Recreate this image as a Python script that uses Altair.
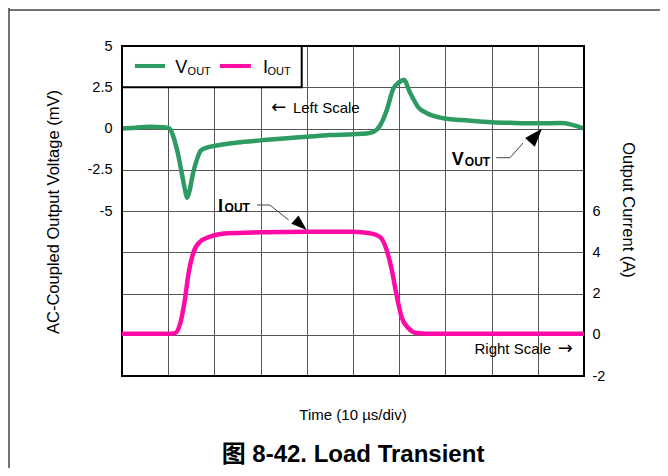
import altair as alt
import pandas as pd

# ---------------- data ----------------
vout_t = [0, 3, 6, 9, 10.3, 11, 12, 13, 13.7, 14.1, 14.6, 15.3, 16.2, 17, 18.5, 20, 25, 30, 35, 40, 45, 50,
          53, 54.5, 55.8, 57.3, 58.7, 60, 61, 62.3, 64.1, 66, 69.5, 75, 80, 85, 90, 95, 100]
vout_v = [0.0, 0.05, 0.1, 0.08, 0.0, -0.4, -1.4, -2.8, -3.8, -4.2, -3.8, -2.8, -1.9, -1.35, -1.15, -1.05, -0.85,
          -0.72, -0.6, -0.5, -0.4, -0.35, -0.3, -0.2, 0.15, 1.1, 2.4, 2.8, 2.95, 2.2, 1.3, 0.92, 0.62, 0.48, 0.38,
          0.34, 0.32, 0.33, 0.0]

iout_t = [0, 5, 10, 11.5, 12.6, 13.6, 14.4, 15.4, 16.9, 19, 22.7, 30, 40, 50, 53.7, 55.8, 57.3, 58.4, 59.5,
          60.5, 62, 63.8, 66, 75, 85, 100]
iout_a = [0.05, 0.05, 0.05, 0.08, 0.55, 1.68, 2.98, 3.95, 4.51, 4.75, 4.92, 4.97, 5.0, 5.0, 4.92, 4.75, 4.1,
          3.14, 1.85, 0.87, 0.31, 0.08, 0.05, 0.05, 0.05, 0.05]

left_ticks = [5, 2.5, 0, -2.5, -5]
right_ticks = [6, 4, 2, 0, -2]
left_grid = [-12.5, -10, -7.5, -5, -2.5, 0, 2.5]

GREEN = "#2E9B63"
MAGENTA = "#FF0AA5"
FONT = "Liberation Sans"
ARROWFONT = "DejaVu Sans"
GRID = "#555555"

df_v = pd.DataFrame({"t": vout_t, "v": vout_v})
df_i = pd.DataFrame({"t": iout_t, "a": iout_a})

xs = alt.Scale(domain=[0, 100], nice=False, zero=False)
yl = alt.Scale(domain=[-15, 5], nice=False, zero=False)
yr = alt.Scale(domain=[-2, 14], nice=False, zero=False)

x_axis = alt.Axis(values=list(range(10, 100, 10)), grid=True, labels=False, ticks=False, tickSize=0,
                  domain=False, title=None, gridColor=GRID, gridWidth=1, gridOpacity=1)
yl_axis = alt.Axis(values=left_grid + [5], grid=True, ticks=False, tickSize=0, domain=False, title=None,
                   gridColor=GRID, gridWidth=1, gridOpacity=1, labelPadding=10,
                   labelExpr="datum.value >= -5 ? toString(datum.value) : ''",
                   labelFont=FONT, labelFontSize=14.5, labelColor="black")
yr_axis = alt.Axis(values=right_ticks, grid=False, ticks=False, tickSize=0, domain=False, title=None,
                   orient="right", labelPadding=8, labelAlign="left",
                   labelExpr="toString(datum.value)",
                   labelFont=FONT, labelFontSize=14.5, labelColor="black")


def XL(field="x"):
    return alt.X(f"{field}:Q", scale=xs, axis=x_axis)


def YL(field="y"):
    return alt.Y(f"{field}:Q", scale=yl, axis=yl_axis)


def YR(field="y"):
    return alt.Y(f"{field}:Q", scale=yr, axis=yr_axis)


# ---------- left (voltage) group ----------
vline = alt.Chart(df_v).mark_line(color=GREEN, strokeWidth=4.5, strokeJoin="round",
                                  interpolate="monotone").encode(x=XL("t"), y=YL("v"))

legend_box = alt.Chart(pd.DataFrame({"x": [0], "x2": [38.9], "y": [5], "y2": [2.5]})).mark_rect(
    fill="white", stroke="black", strokeWidth=2).encode(x=XL(), x2="x2", y=YL(), y2="y2")

legend_lines = alt.Chart(pd.DataFrame({
    "x": [2.8, 21.2], "x2": [9.3, 27.9], "y": [3.79, 3.79], "c": [GREEN, MAGENTA]})).mark_rule(
    strokeWidth=4).encode(x=XL(), x2="x2", y=YL(), color=alt.Color("c:N", scale=None))

big_txt = pd.DataFrame({"x": [11.5, 30.5], "y": [3.36, 3.36], "s": ["V", "I"]})
small_txt = pd.DataFrame({"x": [14.2, 31.5], "y": [3.24, 3.24], "s": ["OUT", "OUT"]})
legend_big = alt.Chart(big_txt).mark_text(font=FONT, fontSize=18, align="left", baseline="alphabetic",
                                          color="black").encode(x=XL(), y=YL(), text="s:N")
legend_small = alt.Chart(small_txt).mark_text(font=FONT, fontSize=11, align="left", baseline="alphabetic",
                                              color="black").encode(x=XL(), y=YL(), text="s:N")

left_arrow = alt.Chart(pd.DataFrame({"x": [32.3], "y": [1.24], "s": ["\u2190"]})).mark_text(
    font=ARROWFONT, fontSize=18, align="left", baseline="middle", color="black").encode(
    x=XL(), y=YL(), text="s:N")
left_scale_txt = alt.Chart(pd.DataFrame({"x": [37.0], "y": [1.24], "s": ["Left Scale"]})).mark_text(
    font=FONT, fontSize=15, align="left", baseline="middle", color="black").encode(
    x=XL(), y=YL(), text="s:N")

vout_big = alt.Chart(pd.DataFrame({"x": [71.4], "y": [-2.21], "s": ["V"]})).mark_text(
    font=FONT, fontSize=18, fontWeight="bold", align="left", baseline="alphabetic", color="black").encode(
    x=XL(), y=YL(), text="s:N")
vout_small = alt.Chart(pd.DataFrame({"x": [74.2], "y": [-2.27], "s": ["OUT"]})).mark_text(
    font=FONT, fontSize=12, fontWeight="bold", align="left", baseline="alphabetic", color="black").encode(
    x=XL(), y=YL(), text="s:N")
vout_leader = alt.Chart(pd.DataFrame({"x": [81.0, 84.0, 86.8], "y": [-1.77, -1.77, -0.88],
                                      "o": [0, 1, 2]})).mark_line(color="#444444", strokeWidth=1).encode(
    x=XL(), y=YL(), order="o:Q")
vout_arrow = alt.Chart(pd.DataFrame({"x": [89.6], "y": [-0.43]})).mark_point(
    shape="M0,-1L0.72,1L-0.72,1Z", filled=True, color="black", opacity=1, size=324, angle=41.6).encode(
    x=XL(), y=YL())

frame_v = alt.Chart(pd.DataFrame({"k": [0]})).mark_rule(color="#444444", strokeWidth=1.5).encode(
    x=alt.value(-113), y=alt.value(-40), y2=alt.value(440))
frame_h = alt.Chart(pd.DataFrame({"k": [0]})).mark_rule(color="#444444", strokeWidth=1.5).encode(
    x=alt.value(-113), x2=alt.value(560), y=alt.value(-36))

titles = pd.DataFrame({
    "s": ["AC-Coupled Output Voltage (mV)", "Output Current (A)", "Time (10 \u00b5s/div)"],
})
left_title = alt.Chart(titles.iloc[[0]]).mark_text(font=FONT, fontSize=16.5, angle=270, align="center",
                                                   baseline="middle", color="black").encode(
    x=alt.value(-68), y=alt.value(166), text="s:N")
right_title = alt.Chart(titles.iloc[[1]]).mark_text(font=FONT, fontSize=16.5, angle=90, align="center",
                                                    baseline="middle", color="black").encode(
    x=alt.value(506), y=alt.value(164), text="s:N")
x_title = alt.Chart(titles.iloc[[2]]).mark_text(font=FONT, fontSize=15, align="center",
                                                baseline="middle", color="black").encode(
    x=alt.value(231), y=alt.value(369), text="s:N")
caption = alt.Chart(pd.DataFrame({"s": ["\u56fe 8-42. Load Transient"]})).mark_text(
    font="Liberation Sans, Noto Sans CJK SC", fontSize=24, fontWeight="bold", align="center",
    baseline="middle", color="black").encode(
    x=alt.value(231), y=alt.value(409), text="s:N")

border = alt.Chart(pd.DataFrame({"x": [0], "x2": [100], "y": [-15], "y2": [5]})).mark_rect(
    stroke="black", strokeWidth=2, filled=False).encode(x=XL(), x2="x2", y=YL(), y2="y2")

left_group = alt.layer(vline, legend_box, legend_lines, legend_big, legend_small, left_arrow,
                       left_scale_txt, vout_leader, vout_arrow, vout_big, vout_small, frame_v, frame_h,
                       left_title, right_title, x_title, caption, border)

# ---------- right (current) group ----------
iline = alt.Chart(df_i).mark_line(color=MAGENTA, strokeWidth=4.5, strokeJoin="round",
                                  interpolate="monotone").encode(x=XL("t"), y=YR("a"))
iout_big = alt.Chart(pd.DataFrame({"x": [20.8], "y": [5.97], "s": ["I"]})).mark_text(
    font=FONT, fontSize=18, fontWeight="bold", align="left", baseline="alphabetic", color="black").encode(
    x=XL(), y=YR(), text="s:N")
iout_small = alt.Chart(pd.DataFrame({"x": [22.2], "y": [5.93], "s": ["OUT"]})).mark_text(
    font=FONT, fontSize=12, fontWeight="bold", align="left", baseline="alphabetic", color="black").encode(
    x=XL(), y=YR(), text="s:N")
iout_leader = alt.Chart(pd.DataFrame({"x": [29.2, 32.0, 36.1], "y": [6.29, 6.29, 5.56],
                                      "o": [0, 1, 2]})).mark_line(color="#444444", strokeWidth=1).encode(
    x=XL(), y=YR(), order="o:Q")
iout_arrow = alt.Chart(pd.DataFrame({"x": [38.7], "y": [5.33]})).mark_point(
    shape="M0,-1L0.7,1L-0.7,1Z", filled=True, color="black", opacity=1, size=246, angle=131).encode(
    x=XL(), y=YR())
right_scale_txt = alt.Chart(pd.DataFrame({"x": [92.9], "y": [-0.69], "s": ["Right Scale"]})).mark_text(
    font=FONT, fontSize=15, align="right", baseline="middle", color="black").encode(
    x=XL(), y=YR(), text="s:N")
right_arrow = alt.Chart(pd.DataFrame({"x": [97.6], "y": [-0.69], "s": ["\u2192"]})).mark_text(
    font=ARROWFONT, fontSize=18, align="right", baseline="middle", color="black").encode(
    x=XL(), y=YR(), text="s:N")

right_group = alt.layer(iline, iout_leader, iout_arrow, iout_big, iout_small, right_scale_txt, right_arrow)

chart = alt.layer(left_group, right_group).resolve_scale(y="independent").properties(
    width=462, height=330,
    autosize=alt.AutoSizeParams(type="none"),
    padding={"left": 114, "top": 38, "right": 76, "bottom": 92},
    background="white",
).configure_view(strokeWidth=0)

chart.save("out.html", embed_options={"renderer": "svg", "actions": False})
